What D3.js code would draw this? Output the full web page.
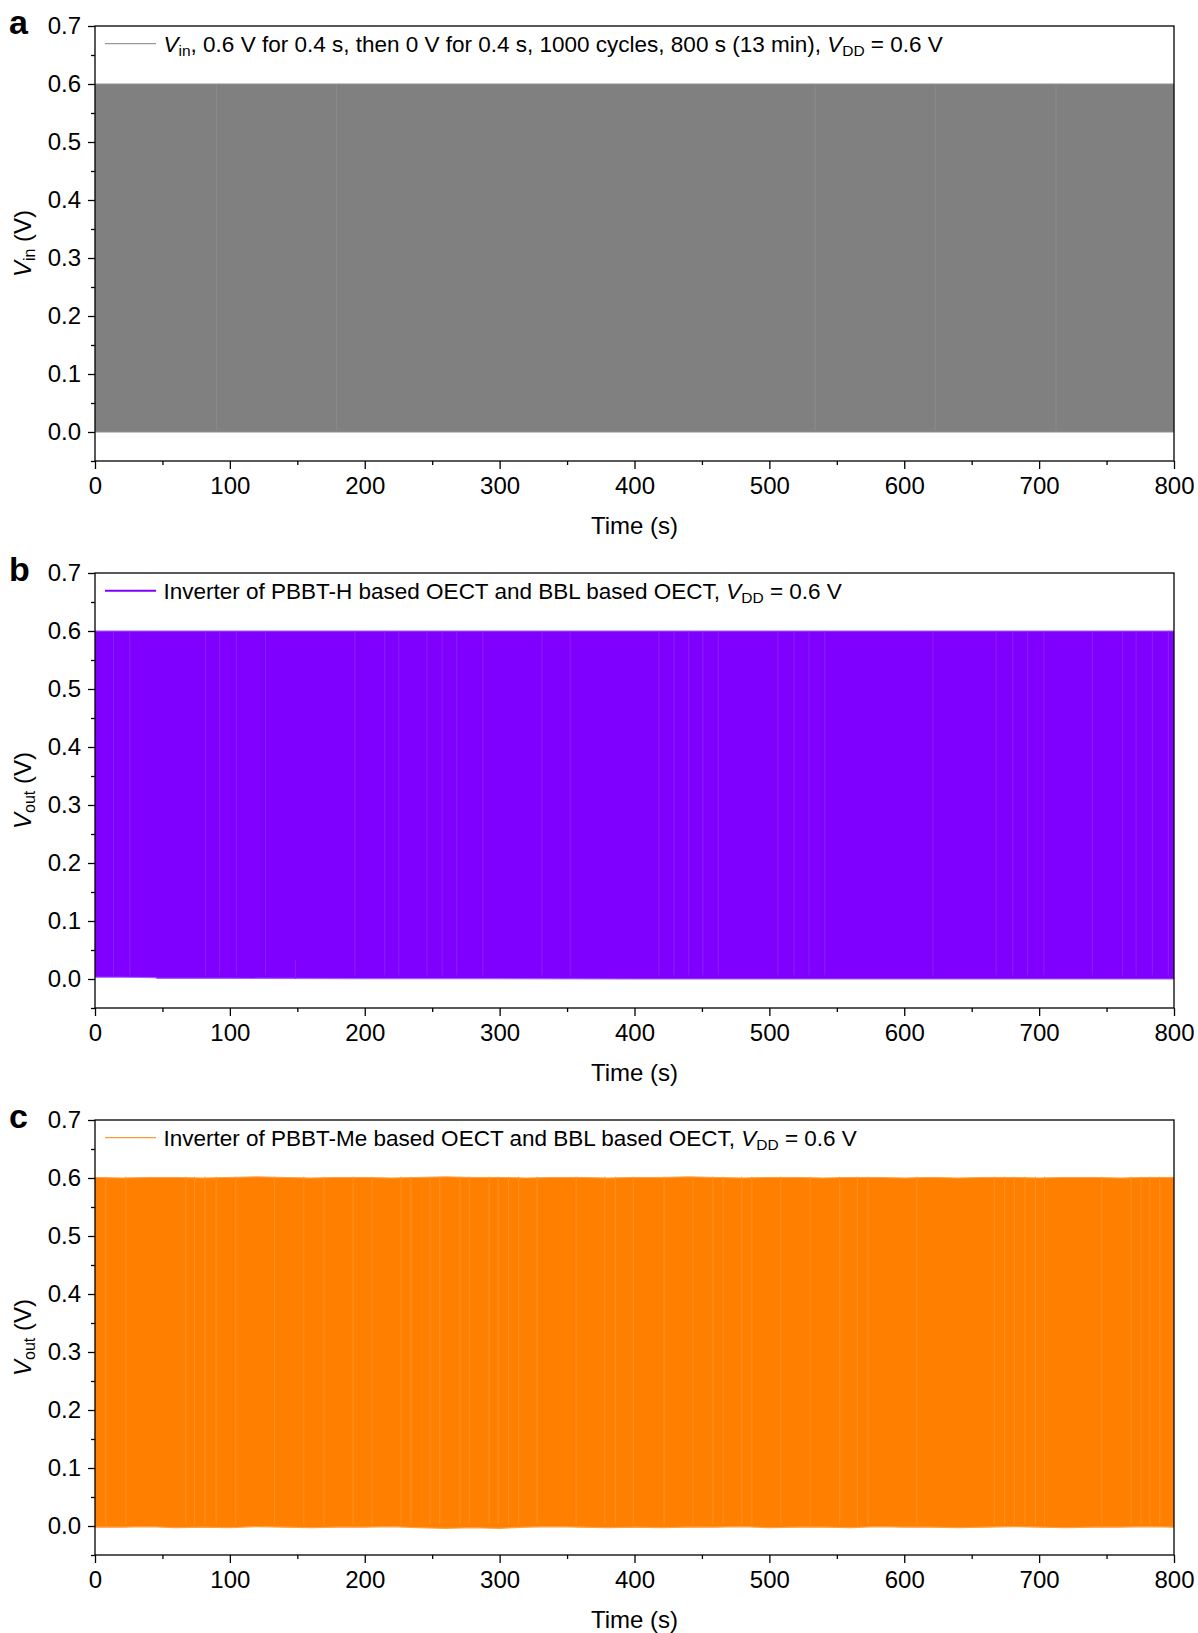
<!DOCTYPE html>
<html>
<head>
<meta charset="utf-8">
<script src="https://cdn.jsdelivr.net/npm/d3@7"></script>
<style>
  body { margin: 0; background: #fff; }
  svg text { font-family: "Liberation Sans", Arial, sans-serif; fill: #000; }
</style>
</head>
<body>
<div id="chart"></div>
<script>
// ---- data ----
const xTicks = [0, 100, 200, 300, 400, 500, 600, 700, 800];
const xMinorTicks = [50, 150, 250, 350, 450, 550, 650, 750];
const yTicks = [0.0, 0.1, 0.2, 0.3, 0.4, 0.5, 0.6, 0.7];
const yMinorTicks = [-0.05, 0.05, 0.15, 0.25, 0.35, 0.45, 0.55, 0.65];

// panel a: V_in square wave envelope (s, V)
const vinTime = [0, 800];
const vinHigh = [0.6, 0.6];
const vinLow = [0.0, 0.0];
const vinGaps = [90, 179, 534, 623, 712.5];

// panel b: PBBT-H inverter output envelope
const outHTime = [0, 20, 45, 46, 100, 200, 300, 400, 500, 600, 700, 800];
const outHHigh = [0.6, 0.6, 0.6, 0.6, 0.6, 0.6, 0.6, 0.6, 0.6, 0.6, 0.6, 0.6];
const outHLow = [0.003, 0.003, 0.0025, 0.001, 0.001, 0.0005, 0.0005, 0.0, 0.0, 0.0, 0.0, 0.0];
const outHGaps = [13.7, 25.8, 82.0, 92.3, 104.9, 126.4, 192.7, 214.8, 225.2, 246.1, 257.4,
  268.2, 287.5, 331.4, 352.3, 418.1, 429.3, 440.2, 450.7, 462.1, 506.3, 518.3, 529.4, 541.1,
  621.3, 668.1, 680.4, 691.5, 703.5, 739.4, 761.8, 771.9, 783.9, 795.8];
const outHShortGaps = [148.6];       // short light mark near the bottom
const outHShortTop = 0.033;

// panel c: PBBT-Me inverter output envelope
const outMeTime = [0, 20, 40, 60, 80, 100, 120, 140, 160, 180, 200, 220, 240, 260, 280, 300,
  320, 340, 360, 380, 400, 420, 440, 460, 480, 500, 520, 540, 560, 580, 600, 620, 640, 660,
  680, 700, 720, 740, 760, 780, 800];
const outMeHigh = [0.601, 0.600, 0.601, 0.601, 0.600, 0.601, 0.602, 0.601, 0.600, 0.601,
  0.601, 0.600, 0.601, 0.602, 0.601, 0.601, 0.600, 0.601, 0.601, 0.600, 0.601, 0.601, 0.602,
  0.601, 0.600, 0.601, 0.601, 0.600, 0.601, 0.601, 0.600, 0.601, 0.600, 0.601, 0.601, 0.600,
  0.601, 0.601, 0.600, 0.601, 0.601];
const outMeLow = [-0.002, -0.002, -0.001, -0.003, -0.002, -0.003, -0.001, -0.002, -0.003,
  -0.002, -0.002, -0.001, -0.003, -0.004, -0.003, -0.004, -0.002, -0.001, -0.002, -0.003,
  -0.002, -0.003, -0.002, -0.002, -0.001, -0.003, -0.002, -0.002, -0.003, -0.001, -0.002,
  -0.002, -0.003, -0.002, -0.001, -0.002, -0.003, -0.002, -0.002, -0.001, -0.002];
const outMeGaps = [8.0, 22.8, 67.4, 73.8, 81.5, 89.8, 104.3, 133.1, 154.8, 169.7, 191.4,
  205.3, 226.9, 234.2, 248.4, 255.6, 270.6, 277.5, 292.2, 298.9, 306.6, 314.1, 327.8, 356.7,
  378.0, 385.8, 399.1, 422.0, 443.3, 458.1, 465.7, 479.5, 487.0, 508.4, 530.2, 552.1, 565.3,
  573.2, 609.3, 666.8, 674.4, 681.6, 689.4, 697.3, 704.0, 746.5, 768.1, 775.6, 782.1, 789.4];

// ---- layout ----
const width = 1198, height = 1633;
const plotLeft = 95, plotWidth = 1079, plotHeight = 435;
const tickFont = 24;
const legendFont = 22.5;

const svg = d3.select('#chart').append('svg')
    .attr('width', width)
    .attr('height', height);

function drawPanel(cfg) {
  const g = svg.append('g')
      .attr('transform', `translate(${plotLeft},${cfg.top})`);

  const xScale = d3.scaleLinear().domain([0, 800]).range([0, plotWidth]);
  const yScale = d3.scaleLinear().domain([-0.05, 0.7]).range([plotHeight, 0]);

  const rows = cfg.time.map((t, i) => ({t: t, hi: cfg.high[i], lo: cfg.low[i]}));

  // the 1000 switching cycles are too dense to resolve: draw the filled envelope
  const area = d3.area()
      .x(d => xScale(d.t))
      .y0(d => yScale(d.lo))
      .y1(d => yScale(d.hi));
  g.append('path')
      .datum(rows)
      .attr('d', area)
      .attr('fill', cfg.color);

  // lighter edges on top and bottom of the envelope
  const edgeTop = d3.line().x(d => xScale(d.t)).y(d => yScale(d.hi));
  const edgeBot = d3.line().x(d => xScale(d.t)).y(d => yScale(d.lo));
  g.append('path').datum(rows).attr('d', edgeTop)
      .attr('fill', 'none').attr('stroke', cfg.edgeColor).attr('stroke-width', 1);
  g.append('path').datum(rows).attr('d', edgeBot)
      .attr('fill', 'none').attr('stroke', cfg.edgeColor).attr('stroke-width', 1.2);

  // faint lighter vertical stripes visible in the trace
  const topV = d3.max(cfg.high), botV = d3.max(cfg.low);
  g.selectAll('.gap')
      .data(cfg.gaps)
      .join('line')
      .attr('class', 'gap')
      .attr('x1', d => xScale(d)).attr('x2', d => xScale(d))
      .attr('y1', yScale(topV)).attr('y2', yScale(botV) - 2)
      .attr('stroke', cfg.gapColor)
      .attr('stroke-width', 1);

  if (cfg.shortGaps) {
    g.selectAll('.sgap')
        .data(cfg.shortGaps)
        .join('line')
        .attr('class', 'sgap')
        .attr('x1', d => xScale(d)).attr('x2', d => xScale(d))
        .attr('y1', yScale(cfg.shortTop)).attr('y2', yScale(0))
        .attr('stroke', cfg.gapColor)
        .attr('stroke-width', 1);
  }

  // frame
  g.append('rect')
      .attr('x', 0).attr('y', 0)
      .attr('width', plotWidth).attr('height', plotHeight)
      .attr('fill', 'none')
      .attr('stroke', '#000')
      .attr('stroke-width', 1.3);

  // axes
  const yAxis = d3.axisLeft(yScale).tickValues(yTicks)
      .tickFormat(d3.format('.1f')).tickSize(7).tickPadding(7).tickSizeOuter(0);
  const yMinor = d3.axisLeft(yScale).tickValues(yMinorTicks)
      .tickFormat('').tickSize(4).tickSizeOuter(0);
  const xAxis = d3.axisBottom(xScale).tickValues(xTicks)
      .tickFormat(d3.format('d')).tickSize(8).tickPadding(8).tickSizeOuter(0);
  const xMinor = d3.axisBottom(xScale).tickValues(xMinorTicks)
      .tickFormat('').tickSize(4).tickSizeOuter(0);

  [g.append('g').call(yAxis), g.append('g').call(yMinor)].forEach(a => {
    a.select('.domain').remove();
  });
  [g.append('g').attr('transform', `translate(0,${plotHeight})`).call(xAxis),
   g.append('g').attr('transform', `translate(0,${plotHeight})`).call(xMinor)].forEach(a => {
    a.select('.domain').remove();
  });
  g.selectAll('.tick line').attr('stroke', '#000').attr('stroke-width', 1.3);
  g.selectAll('.tick text')
      .style('font-family', '"Liberation Sans", Arial, sans-serif')
      .style('font-size', tickFont + 'px')
      .attr('fill', '#000');

  // x axis title
  g.append('text')
      .attr('x', plotWidth / 2)
      .attr('y', plotHeight + 73)
      .attr('text-anchor', 'middle')
      .style('font-size', '24px')
      .text('Time (s)');

  // y axis title with italic V and subscript
  const yt = svg.append('text')
      .attr('transform', `translate(31,${cfg.top + plotHeight / 2}) rotate(-90)`)
      .attr('text-anchor', 'middle')
      .style('font-size', '24px');
  yt.append('tspan').style('font-style', 'italic').text('V');
  yt.append('tspan').attr('baseline-shift', '-25%').style('font-size', '16px').text(cfg.ySub);
  yt.append('tspan').text(' (V)');

  // panel letter
  svg.append('text')
      .attr('x', 9)
      .attr('y', cfg.top + 8)
      .style('font-size', '34px')
      .style('font-weight', 'bold')
      .text(cfg.letter);

  // legend
  const ly = 17.7;
  g.append('line')
      .attr('x1', 10).attr('x2', 61)
      .attr('y1', ly).attr('y2', ly)
      .attr('stroke', cfg.legendColor)
      .attr('stroke-width', cfg.legendWidth);
  const lt = g.append('text')
      .attr('x', 68.5)
      .attr('y', ly)
      .attr('dy', '0.36em')
      .style('font-size', legendFont + 'px');
  cfg.legend(lt);
}

function sub(t, s) {
  t.append('tspan').attr('baseline-shift', '-25%').style('font-size', '15.5px').text(s);
}

drawPanel({
  top: 26, letter: 'a', ySub: 'in',
  time: vinTime, high: vinHigh, low: vinLow, gaps: vinGaps,
  color: '#808080', edgeColor: '#8f8f8f', gapColor: '#8b8b8b',
  legendColor: '#808080', legendWidth: 1,
  legend: t => {
    t.append('tspan').style('font-style', 'italic').text('V');
    sub(t, 'in');
    t.append('tspan').text(', 0.6 V for 0.4 s, then 0 V for 0.4 s, 1000 cycles, 800 s (13 min), ');
    t.append('tspan').style('font-style', 'italic').text('V');
    sub(t, 'DD');
    t.append('tspan').text(' = 0.6 V');
  }
});

drawPanel({
  top: 573, letter: 'b', ySub: 'out',
  time: outHTime, high: outHHigh, low: outHLow, gaps: outHGaps,
  shortGaps: outHShortGaps, shortTop: outHShortTop,
  color: '#7f00ff', edgeColor: '#a35cff', gapColor: '#8c1fff',
  legendColor: '#7f00ff', legendWidth: 2,
  legend: t => {
    t.append('tspan').text('Inverter of PBBT-H based OECT and BBL based OECT, ');
    t.append('tspan').style('font-style', 'italic').text('V');
    sub(t, 'DD');
    t.append('tspan').text(' = 0.6 V');
  }
});

drawPanel({
  top: 1120, letter: 'c', ySub: 'out',
  time: outMeTime, high: outMeHigh, low: outMeLow, gaps: outMeGaps,
  color: '#ff8000', edgeColor: '#ffa040', gapColor: '#ff9024',
  legendColor: '#ff8000', legendWidth: 1,
  legend: t => {
    t.append('tspan').text('Inverter of PBBT-Me based OECT and BBL based OECT, ');
    t.append('tspan').style('font-style', 'italic').text('V');
    sub(t, 'DD');
    t.append('tspan').text(' = 0.6 V');
  }
});
</script>
</body>
</html>
